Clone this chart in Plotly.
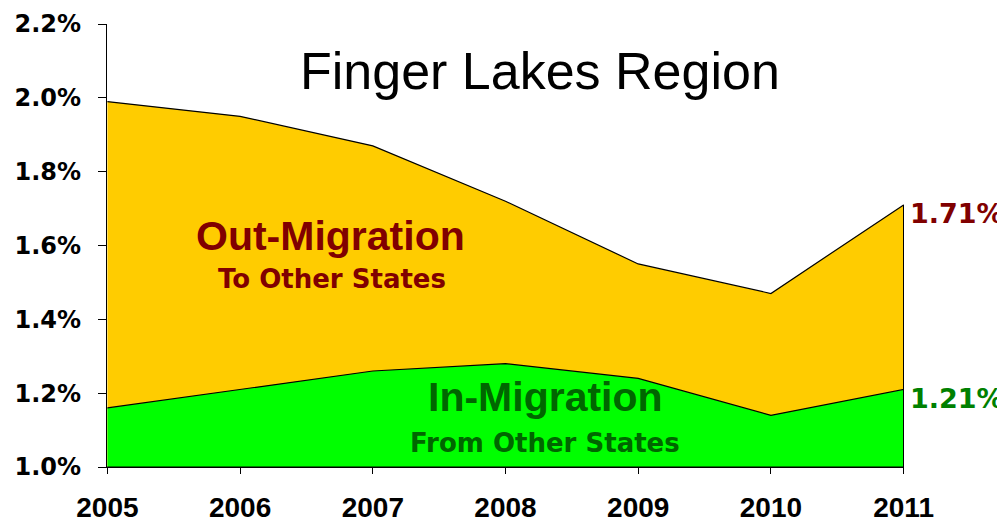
import plotly.graph_objects as go

# Migration rates for the Finger Lakes Region (percent of population)
years = [2005, 2006, 2007, 2008, 2009, 2010, 2011]
out_rate = [1.99, 1.95, 1.87, 1.72, 1.55, 1.47, 1.71]
in_rate = [1.16, 1.21, 1.26, 1.28, 1.24, 1.14, 1.21]
y_ticks = [1.0, 1.2, 1.4, 1.6, 1.8, 2.0, 2.2]
y_tick_text = [f"{v:.1f}%" for v in y_ticks]
y_floor = 1.0

ARIAL = "Liberation Sans, Arial, sans-serif"
WIDE = "DejaVu Sans, Liberation Sans, sans-serif"
DARK_RED = "#800000"
DARK_GREEN = "#006600"

fig = go.Figure()

# Out-migration band (filled down to the axis floor)
fig.add_trace(go.Scatter(
    x=years + [years[-1], years[0]],
    y=out_rate + [y_floor, y_floor],
    fill="toself", fillcolor="#FFCC00",
    line=dict(color="black", width=1.2),
    mode="lines", hoverinfo="skip", showlegend=False,
))

# In-migration band
fig.add_trace(go.Scatter(
    x=years + [years[-1], years[0]],
    y=in_rate + [y_floor, y_floor],
    fill="toself", fillcolor="#00FF00",
    line=dict(color="black", width=1.2),
    mode="lines", hoverinfo="skip", showlegend=False,
))

annotations = [
    dict(x=2008.26, y=2.073, text="Finger Lakes Region",
         font=dict(family=ARIAL, size=52, color="black")),
    dict(x=2006.68, y=1.625, text="<b>Out-Migration</b>",
         font=dict(family=ARIAL, size=41, color=DARK_RED)),
    dict(x=2006.69, y=1.51, text="<b>To Other States</b>",
         font=dict(family=WIDE, size=26, color=DARK_RED)),
    dict(x=2008.30, y=1.19, text="<b>In-Migration</b>",
         font=dict(family=ARIAL, size=41, color=DARK_GREEN)),
    dict(x=2008.30, y=1.064, text="<b>From Other States</b>",
         font=dict(family=WIDE, size=26, color=DARK_GREEN)),
    # End-of-series value labels
    dict(x=years[-1], y=out_rate[-1], text=f"<b>{out_rate[-1]:.2f}%</b>",
         xanchor="left", xshift=4, yshift=-9,
         font=dict(family=WIDE, size=27, color=DARK_RED)),
    dict(x=years[-1], y=in_rate[-1], text=f"<b>{in_rate[-1]:.2f}%</b>",
         xanchor="left", xshift=4, yshift=-9,
         font=dict(family=WIDE, size=27, color="#008000")),
]
for a in annotations:
    a.setdefault("xanchor", "center")
    a.update(xref="x", yref="y", yanchor="middle", showarrow=False)

fig.update_layout(
    width=997, height=523,
    margin=dict(l=107, r=93, t=24, b=56),
    paper_bgcolor="white", plot_bgcolor="white",
    annotations=annotations,
    xaxis=dict(
        range=[2004.997, 2011.003], tickvals=years,
        showline=True, linecolor="black", linewidth=1.2,
        ticks="outside", ticklen=6, tickcolor="black",
        showgrid=False, zeroline=False, ticklabelstandoff=9,
        automargin=False,
        tickfont=dict(family=ARIAL, size=28, color="black", weight="bold"),
    ),
    yaxis=dict(
        range=[y_ticks[0], y_ticks[-1]], tickvals=y_ticks,
        ticktext=y_tick_text,
        showline=True, linecolor="black", linewidth=1.2,
        ticks="outside", ticklen=8, tickcolor="black",
        showgrid=False, zeroline=False, ticklabelstandoff=12,
        automargin=False,
        tickfont=dict(family=WIDE, size=24, color="black", weight="bold"),
    ),
)

fig.write_html("out.html")
